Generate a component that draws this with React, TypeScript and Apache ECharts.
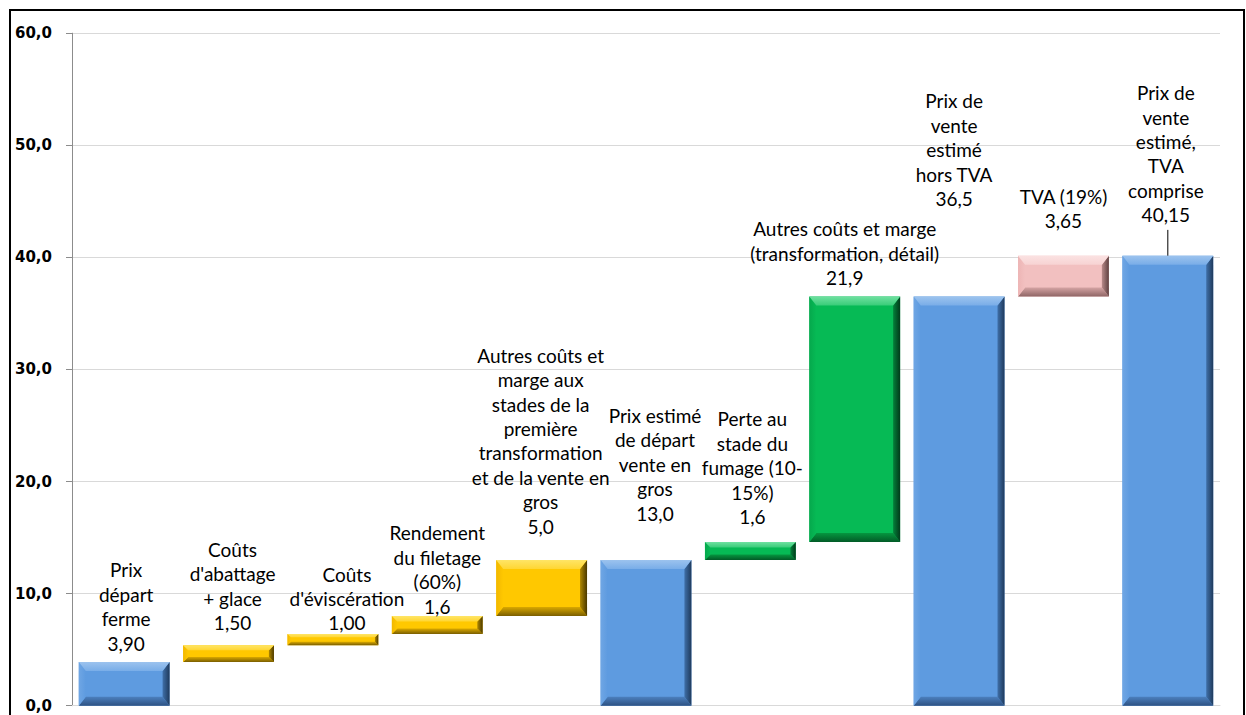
import React, { useEffect, useRef } from "react";
import * as echarts from "echarts";

// ---- Data ----
const categories = [
  "Prix départ ferme",
  "Coûts d'abattage + glace",
  "Coûts d'éviscération",
  "Rendement du filetage (60%)",
  "Autres coûts et marge aux stades de la première transformation et de la vente en gros",
  "Prix estimé de départ vente en gros",
  "Perte au stade du fumage (10-15%)",
  "Autres coûts et marge (transformation, détail)",
  "Prix de vente estimé hors TVA",
  "TVA (19%)",
  "Prix de vente estimé, TVA comprise",
];
const labelLines = [
  ["Prix", "départ", "ferme"],
  ["Coûts", "d'abattage", "+ glace"],
  ["Coûts", "d'éviscération"],
  ["Rendement", "du filetage", "(60%)"],
  ["Autres coûts et", "marge aux", "stades de la", "première", "transformation", "et de la vente en", "gros"],
  ["Prix estimé", "de départ", "vente en", "gros"],
  ["Perte au", "stade du", "fumage (10-", "15%)"],
  ["Autres coûts et marge", "(transformation, détail)"],
  ["Prix de", "vente", "estimé", "hors TVA"],
  ["TVA (19%)"],
  ["Prix de", "vente", "estimé,", "TVA", "comprise"],
];
const barStart = [0, 3.9, 5.4, 6.4, 8.0, 0, 13.0, 14.6, 0, 36.5, 0];
const barEnd = [3.9, 5.4, 6.4, 8.0, 13.0, 13.0, 14.6, 36.5, 36.5, 40.15, 40.15];
const valueLabels = ["3,90", "1,50", "1,00", "1,6", "5,0", "13,0", "1,6", "21,9", "36,5", "3,65", "40,15"];
const barKind = ["total", "cost", "cost", "cost", "cost", "total", "smoke", "smoke", "total", "tax", "total"];
const yMin = 0;
const yMax = 60;
const yInterval = 10;

// ---- Label placement (pixels, style only) ----
const labelGap = [19, 22.5, 11, 10, 34, 47, 25.5, 19, 98, 35, 41];
const labelDx = [2, 4, 14, 0, -1, 9, 2, -10, -5, 0, -2];
const leader = [false, false, false, false, false, false, false, false, false, false, true];

// ---- Styles ----
type Pal = { face: string; topA: string; topB: string; leftA: string; leftB: string; rightA: string; rightB: string; botA: string; botB: string };
const palette: Record<string, Pal> = {
  total: {
    face: "#5E9BE0",
    topA: "#9CC3EE", topB: "#79ADE8",
    leftA: "#6FA6E4", leftB: "#5E9BE0",
    rightA: "#3F6FA8", rightB: "#1F3A5C",
    botA: "#4C80BE", botB: "#2E5283",
  },
  cost: {
    face: "#FFC800",
    topA: "#FFE566", topB: "#FFD633",
    leftA: "#F2B800", leftB: "#FFC800",
    rightA: "#B08800", rightB: "#4A3800",
    botA: "#D9A800", botB: "#7A5E00",
  },
  smoke: {
    face: "#06BA55",
    topA: "#6FE0A0", topB: "#38CC78",
    leftA: "#05A84C", leftB: "#06BA55",
    rightA: "#04803A", rightB: "#013A1A",
    botA: "#05963F", botB: "#025A27",
  },
  tax: {
    face: "#F2C0C0",
    topA: "#FBE2E2", topB: "#F7D3D3",
    leftA: "#EDB5B5", leftB: "#F2C0C0",
    rightA: "#B98A8A", rightB: "#5E4040",
    botA: "#D4A3A3", botB: "#8E6565",
  },
};
const LABEL_FONT = "Lato, 'Noto Sans', sans-serif";
const LINE_H = 24.4;

const lg = (x2: number, y2: number, a: string, b: string) =>
  new echarts.graphic.LinearGradient(0, 0, x2, y2, [
    { offset: 0, color: a },
    { offset: 1, color: b },
  ]);

export default function App() {
  const ref = useRef<HTMLDivElement>(null);

  useEffect(() => {
    if (!ref.current) return;
    const chart = echarts.init(ref.current, undefined, { renderer: "svg" });

    const data = barStart.map((s, i) => [i, s, barEnd[i]]);

    const option: any = {
      animation: false,
      backgroundColor: "#ffffff",
      grid: { left: 72, right: 26, top: 33.2, bottom: 9.3, containLabel: false },
      xAxis: {
        type: "category",
        data: categories,
        axisLabel: { show: false },
        axisTick: { show: false },
        axisLine: { show: true, lineStyle: { color: "#D9D9D9", width: 1 } },
        splitLine: { show: false },
      },
      yAxis: {
        type: "value",
        min: yMin,
        max: yMax,
        interval: yInterval,
        axisLine: { show: true, lineStyle: { color: "#8C8C8C", width: 1 } },
        axisTick: { show: true, length: 6, lineStyle: { color: "#8C8C8C" } },
        axisLabel: {
          margin: 20,
          color: "#000",
          fontSize: 15,
          fontWeight: "bold",
          fontFamily: "'DejaVu Sans', sans-serif",
          formatter: (v: number) => v.toFixed(1).replace(".", ","),
        },
        splitLine: { show: true, lineStyle: { color: "#D9D9D9", width: 1 } },
      },
      graphic: [
        {
          type: "rect",
          silent: true,
          shape: { x: 10, y: 10, width: 1234, height: 800 },
          style: { fill: "none", stroke: "#000", lineWidth: 2 },
          z: 100,
        },
      ],
      series: [
        {
          type: "custom",
          clip: false,
          encode: { x: 0, y: [1, 2] },
          data,
          renderItem: (params: any, api: any) => {
            const i = api.value(0);
            const lo = api.value(1);
            const hi = api.value(2);
            const p0 = api.coord([i, lo]);
            const p1 = api.coord([i, hi]);
            const bandW = api.size([1, 0])[0];
            const w = bandW * 0.87;
            const x = p0[0] - w / 2;
            const y = p1[1];
            const h = p0[1] - p1[1];
            const bt = Math.min(9, h * 0.3);
            const bs = Math.min(7, h * 0.3);
            const pal = palette[barKind[i]];
            const cx = p0[0];
            const text = [...labelLines[i], valueLabels[i]].join("\n");
            const textBottom = y - labelGap[i] + LINE_H / 2;
            const children: any[] = [
              { type: "rect", shape: { x, y, width: w, height: h }, style: { fill: pal.face } },
              {
                type: "polygon",
                shape: { points: [[x, y + h], [x + bs, y + h - bt], [x + w - bs, y + h - bt], [x + w, y + h]] },
                style: { fill: lg(0, 1, pal.botA, pal.botB) },
              },
              {
                type: "polygon",
                shape: { points: [[x, y], [x + bs, y + bt], [x + bs, y + h - bt], [x, y + h]] },
                style: { fill: lg(1, 0, pal.leftA, pal.leftB) },
              },
              {
                type: "polygon",
                shape: { points: [[x + w, y], [x + w, y + h], [x + w - bs, y + h - bt], [x + w - bs, y + bt]] },
                style: { fill: lg(1, 0, pal.rightA, pal.rightB) },
              },
              {
                type: "polygon",
                shape: { points: [[x, y], [x + w, y], [x + w - bs, y + bt], [x + bs, y + bt]] },
                style: { fill: lg(0, 1, pal.topA, pal.topB) },
              },
              {
                type: "text",
                x: cx + labelDx[i],
                y: textBottom,
                style: {
                  text,
                  align: "center",
                  verticalAlign: "bottom",
                  fontSize: 19,
                  fontFamily: LABEL_FONT,
                  lineHeight: LINE_H,
                  fill: "#000",
                },
              },
            ];
            if (leader[i]) {
              children.push({
                type: "line",
                shape: { x1: cx, y1: textBottom + 3, x2: cx, y2: y },
                style: { stroke: "#000", lineWidth: 1 },
              });
            }
            return { type: "group", children };
          },
        },
      ],
    };

    chart.setOption(option);
    return () => chart.dispose();
  }, []);

  return (
    <div
      ref={ref}
      style={{ position: "fixed", left: 0, top: 0, width: 1246, height: 715, background: "#fff" }}
    />
  );
}
